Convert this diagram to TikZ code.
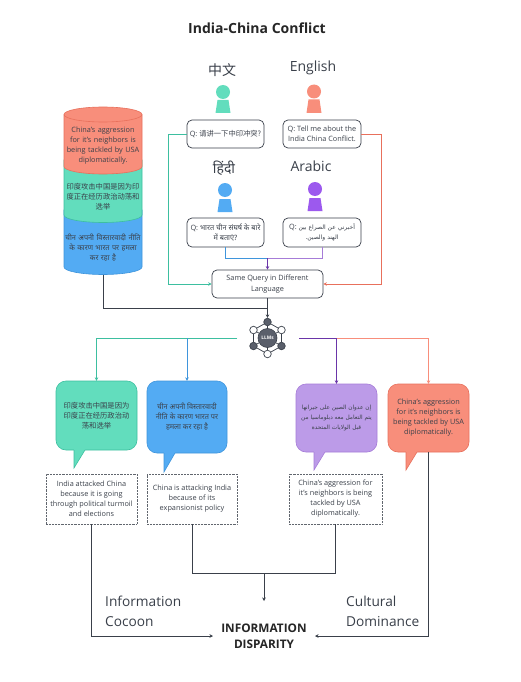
\documentclass[tikz,border=0pt]{standalone}
\usepackage{fontspec}
\setmainfont{Open Sans}
\newfontfamily\cjk{Noto Sans CJK SC}
\newfontfamily\hin[Script=Devanagari]{Noto Sans}
\newfontfamily\arab[Script=Arabic]{DejaVu Sans}
\TeXXeTstate=1
\usetikzlibrary{arrows.meta}
\definecolor{ink}{HTML}{3A404A}
\definecolor{iconc}{HTML}{5A5F6B}
\definecolor{tealf}{HTML}{62DDBD}
\definecolor{teald}{HTML}{3DBFA0}
\definecolor{salf}{HTML}{F88E7B}
\definecolor{sald}{HTML}{E8705C}
\definecolor{bluef}{HTML}{53ABF3}
\definecolor{blued}{HTML}{3F95DC}
\definecolor{purf}{HTML}{BC9BE8}
\definecolor{purd}{HTML}{A67CD8}
\definecolor{purp}{HTML}{9C59EE}
\definecolor{purl}{HTML}{6A35A8}
\tikzset{
  tiptri/.style={-{Stealth[length=3.5pt,width=3.5pt]}},
  qbox/.style={draw=ink,line width=.7pt,rounded corners=5pt,fill=white,align=center,text=ink,inner sep=1pt,font=\fontsize{7.3}{10}\selectfont},
  dotbox/.style={draw=ink!80,densely dotted,line width=.45pt,align=center,text=ink,inner sep=1pt,minimum height=50pt,font=\fontsize{7.3}{10}\selectfont},
  bubtext/.style={align=center,text=ink,inner sep=0pt,font=\fontsize{7.3}{10}\selectfont},
  lang/.style={text=ink,inner sep=0pt,font=\fontsize{14}{16}\selectfont},
  side/.style={text=ink,inner sep=0pt,align=left,anchor=west,font=\fontsize{13.7}{20}\selectfont},
  darkline/.style={draw=ink,line width=.8pt},
  lnode/.style={circle,draw=ink,line width=.7pt,minimum size=7.5pt,inner sep=0pt},
}
\newcommand{\bubblepath}[8]{%
  \draw[fill=#7,draw=#8,line width=.6pt,rounded corners=10pt] (#1,#2) rectangle (#3,#4);
  \fill[#7] (#5,{#4-1}) -- ({#5+11},{#4-1}) -- ({#5+11},#4) -- (#5,#6) -- cycle;
  \draw[#8,line width=.6pt] (#5,#4) -- (#5,#6) -- ({#5+11},#4);}
\newcommand{\person}[5]{%
  \fill[#5] (#1,#2) circle (7pt);
  \fill[#5] ({#1-5.5},#3) -- ({#1+5.5},#3) -- ({#1+7.5},#4) -- ({#1-7.5},#4) -- cycle;}
\begin{document}
\begin{tikzpicture}[x=1pt,y=-1pt]
\useasboundingbox[fill=white] (0,0) rectangle (520,682);
\node[text=black!85,inner sep=0pt,font=\fontsize{14}{16}\selectfont\bfseries] (title) at (257,28) {India-China Conflict};

% cylinder
\draw[fill=bluef,draw=blued,line width=.6pt] (64,210) -- (64,267) arc[start angle=180,end angle=0,x radius=39,y radius=7.5] -- (142,210) -- cycle;
\draw[fill=tealf,draw=teald,line width=.6pt] (64,160) -- (64,215) arc[start angle=180,end angle=0,x radius=39,y radius=7.5] -- (142,160) -- cycle;
\draw[fill=salf,draw=sald,line width=.6pt] (64,114.5) -- (64,166.5) arc[start angle=180,end angle=0,x radius=39,y radius=7.5] -- (142,114.5) arc[start angle=0,end angle=-180,x radius=39,y radius=7.5] -- cycle;
\draw[draw=sald,line width=.6pt] (64,114.5) arc[start angle=180,end angle=0,x radius=39,y radius=7.5];
\node[bubtext,text width=78pt] (cylr) at (103,146) {China's aggression\\for it's neighbors is\\being tackled by USA\\diplomatically.};
\node[bubtext,text width=78pt] (cylg) at (103,197) {\cjk 印度攻击中国是因为印\\\cjk 度正在经历政治动荡和\\\cjk 选举};
\node[bubtext,text width=78pt] (cylb) at (103,248) {\hin चीन अपनी विस्तारवादी नीति\\\hin के कारण भारत पर हमला\\\hin कर रहा है};
\coordinate (cylbot) at (103,274.5);

% people
\node[lang] (l1) at (222,70) {\cjk 中文};
\node[lang] (l2) at (313,68) {English};
\node[lang] (l3) at (224,168) {\hin हिंदी};
\node[lang] (l4) at (311,166) {Arabic};
\person{223}{92}{100}{113}{tealf}
\person{314}{91.5}{99.5}{113}{salf}
\person{225}{190}{199}{212}{bluef}
\person{315}{189}{198}{211}{purp}

% queries
\node[qbox,minimum width=77pt,minimum height=28pt] (q1) at (225.5,134) {Q: {\cjk 请讲一下中印冲突?}};
\node[qbox,minimum width=78pt,minimum height=28pt] (q2) at (322,134) {Q: Tell me about the\\India China Conflict.};
\node[qbox,minimum width=77pt,minimum height=29pt] (q3) at (225.5,232.5) {Q: {\hin भारत चीन संघर्ष के बारे}\\{\hin में बताएं?}};
\node[qbox,minimum width=78pt,minimum height=29pt] (q4) at (322,232.5) {Q: {\fontsize{6}{10}\selectfont\arab\beginR أخبرني عن الصراع بين\endR}\\{\fontsize{6}{10}\selectfont\arab\beginR الهند والصين.\endR}};
\node[qbox,minimum width=111pt,minimum height=28pt,font=\fontsize{7.3}{11}\selectfont] (same) at (267.5,284) {Same Query in Different\\Language};

\draw[tiptri,teald,line width=.8pt] (q1.west) -- (168,134) -- (168,284) -- (same.west);
\draw[tiptri,sald,line width=.8pt] (q2.east) -- (381,134) -- (381,284) -- (same.east);
\draw[blued,line width=.8pt] (q3.south) -- (225.5,258) -- (267.5,258);
\draw[purd,line width=.8pt] (q4.south) -- (322,258) -- (267.5,258);
\draw[tiptri,purl,line width=.8pt] (267.5,258) -- (same.north);

% LLM icon
\node[circle,fill=iconc,draw=ink,line width=.6pt,minimum size=19pt,inner sep=0pt,text=white,font=\fontsize{4.8}{5}\selectfont\bfseries] (llm) at (267.5,338) {LLMs};
\node[lnode,fill=iconc] (n1) at (267.5,322) {};
\node[lnode,fill=white] (n2) at (281.5,330) {};
\node[lnode,fill=iconc] (n3) at (281.5,346) {};
\node[lnode,fill=white] (n4) at (267.5,354) {};
\node[lnode,fill=iconc] (n5) at (253.5,346) {};
\node[lnode,fill=white] (n6) at (253.5,330) {};
\foreach \a/\b in {n1/n2,n2/n3,n3/n4,n4/n5,n5/n6,n6/n1,llm/n1,llm/n2,llm/n3,llm/n4,llm/n5,llm/n6}
  \draw[ink,line width=.7pt] (\a) -- (\b);
\draw[darkline] (cylbot) -- (103,308) -- (267.5,308);
\draw[darkline,tiptri] (same.south) -- (n1.north);

% bubbles
\bubblepath{56}{381}{137}{450}{74}{468}{tealf}{teald}
\bubblepath{147}{381}{227}{453}{164}{472}{bluef}{blued}
\bubblepath{296}{384}{377}{452}{314}{470}{purf}{purd}
\bubblepath{388}{384}{469}{452}{406}{470}{salf}{sald}
\node[bubtext,minimum width=81pt,minimum height=69pt] (b1) at (96.5,415.5) {\cjk 印度攻击中国是因为\\\cjk 印度正在经历政治动\\\cjk 荡和选举};
\node[bubtext,minimum width=80pt,minimum height=72pt] (b2) at (187,417) {\hin चीन अपनी विस्तारवादी\\\hin नीति के कारण भारत पर\\\hin हमला कर रहा है};
\node[bubtext,minimum width=81pt,minimum height=68pt,font=\fontsize{5.8}{10}\selectfont] (b3) at (336.5,418) {\arab\beginR إن عدوان الصين على جيرانها\endR\\\arab\beginR يتم التعامل معه دبلوماسيا من\endR\\\arab\beginR قبل الولايات المتحدة\endR};
\node[bubtext,minimum width=81pt,minimum height=68pt] (b4) at (428.5,418) {China's aggression\\for it's neighbors is\\being tackled by USA\\diplomatically.};

\coordinate (hubl) at (237,338);
\coordinate (hubr) at (299,338);
\draw[tiptri,teald,line width=.8pt] (hubl) -- (96.5,338) -- (b1.north);
\draw[tiptri,blued,line width=.8pt] (187,338) -- (b2.north);
\draw[tiptri,salf,line width=.8pt] (336.5,338) -- (428.5,338) -- (b4.north);
\draw[tiptri,purl,line width=.8pt] (hubr) -- (336.5,338) -- (b3.north);

% explanations
\node[dotbox,minimum width=91pt] (d1) at (91.5,499) {India attacked China\\because it is going\\through political turmoil\\and elections};
\node[dotbox,minimum width=90pt] (d2) at (192,499) {China is attacking India\\because of its\\expansionist policy};
\node[dotbox,minimum width=93pt] (d3) at (335.5,499) {China's aggression for\\it's neighbors is being\\tackled by USA\\diplomatically.};

% bottom
\node[side] (s1) at (105,611) {Information\\Cocoon};
\node[side] (s2) at (346,611) {Cultural\\Dominance};
\node[align=center,text=black!85,inner sep=0pt,font=\fontsize{11.8}{16}\selectfont\bfseries] (disp) at (264,636) {INFORMATION\\DISPARITY};
\coordinate (join) at (264,573);
\draw[darkline,tiptri] (d1.south) -- (91.5,636) -- (213,636);
\draw[darkline,tiptri] (b4.south) -- (428.5,636) -- (315,636);
\draw[darkline] (d2.south) -- (192,573) -- (335.5,573) -- (d3.south);
\draw[darkline,tiptri] (join) -- (264,601);
\end{tikzpicture}
\end{document}
